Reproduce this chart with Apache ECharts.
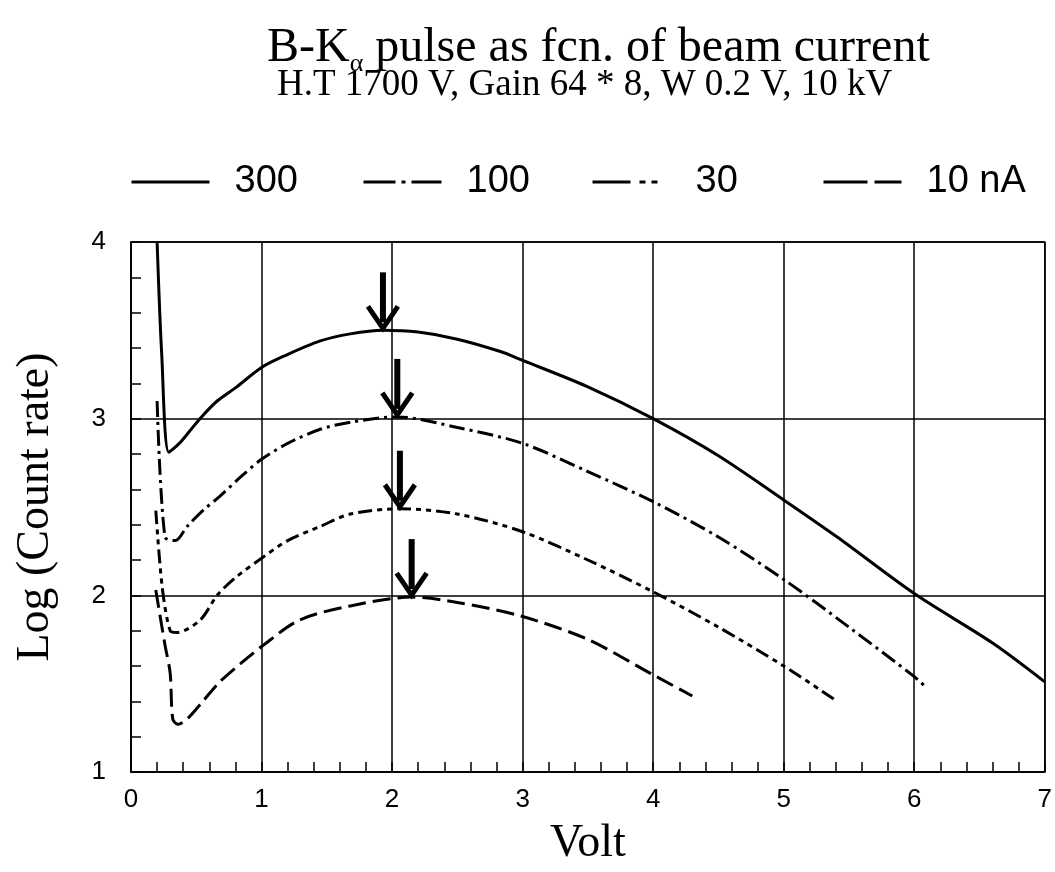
<!DOCTYPE html>
<html>
<head>
<meta charset="utf-8">
<script src="https://cdn.jsdelivr.net/npm/echarts@6/dist/echarts.min.js"></script>
<style>
  html, body { margin: 0; padding: 0; background: #fff; }
  #chart { width: 1055px; height: 872px; }
</style>
</head>
<body>
<div id="chart"></div>
<script>
// Pulse height scans of the B-Kα line, one per beam current
const seriesNames = ['300', '100', '30', '10 nA'];

const volt300 = [0.2, 0.235, 0.29, 0.37, 0.45, 0.54, 0.66, 0.81, 1.0, 1.19, 1.45, 1.68, 1.93, 2.2, 2.5, 2.83, 3.0, 3.5, 4.0, 4.5, 5.0, 5.41, 6.0, 6.6, 7.0];
const log300  = [4.0, 3.37, 2.81, 2.86, 2.93, 3.01, 3.10, 3.18, 3.29, 3.36, 3.44, 3.48, 3.50, 3.49, 3.45, 3.38, 3.33, 3.18, 3.00, 2.79, 2.54, 2.33, 2.01, 1.73, 1.51];

const volt100 = [0.2, 0.26, 0.34, 0.43, 0.55, 0.68, 0.84, 1.0, 1.2, 1.45, 1.68, 2.04, 2.5, 3.0, 3.5, 4.0, 4.5, 5.0, 5.5, 6.0, 6.09];
const log100  = [3.10, 2.33, 2.31, 2.39, 2.48, 2.56, 2.67, 2.77, 2.86, 2.94, 2.98, 3.01, 2.95, 2.86, 2.70, 2.53, 2.33, 2.09, 1.82, 1.54, 1.48];

const volt30 = [0.19, 0.24, 0.30, 0.35, 0.53, 0.66, 0.80, 1.0, 1.2, 1.45, 1.68, 2.06, 2.5, 3.0, 3.5, 4.0, 4.5, 5.0, 5.39];
const log30  = [2.48, 2.04, 1.80, 1.79, 1.86, 2.00, 2.10, 2.21, 2.31, 2.39, 2.46, 2.49, 2.46, 2.36, 2.20, 2.02, 1.82, 1.60, 1.41];

const volt10 = [0.19, 0.26, 0.30, 0.32, 0.36, 0.43, 0.55, 0.68, 0.85, 1.0, 1.29, 1.68, 2.15, 2.5, 3.0, 3.5, 4.0, 4.3];
const log10  = [2.03, 1.72, 1.56, 1.30, 1.27, 1.30, 1.40, 1.51, 1.62, 1.71, 1.86, 1.94, 1.99, 1.96, 1.88, 1.75, 1.55, 1.43];

// Peak markers (arrow tips sit on each curve's maximum)
const peakVolt = [1.93, 2.04, 2.06, 2.15];
const peakLog  = [3.50, 3.01, 2.49, 1.99];

// Axis ticks
const xTicks = [0, 1, 2, 3, 4, 5, 6, 7];
const yTicks = [1, 2, 3, 4];

function pairs(xs, ys) { return xs.map((x, i) => [x, ys[i]]); }

// Dash patterns of the curves and of the (longer) legend samples
const dashStyles = [
  'solid',
  [16, 5, 3, 5],
  [14, 5, 5, 5, 5, 5],
  [18, 7]
];
const legendDash = [
  'solid',
  [32, 6, 4, 6, 40],
  [38, 9, 6, 6, 6, 40],
  [44, 7, 40]
];
const curveData = [pairs(volt300, log300), pairs(volt100, log100), pairs(volt30, log30), pairs(volt10, log10)];

const chart = echarts.init(document.getElementById('chart'), null, { renderer: 'canvas' });

const legendLefts = [130, 362, 591, 822];

const lineSeries = curveData.map((d, i) => ({
  name: seriesNames[i],
  type: 'line',
  data: d,
  symbol: 'none',
  showSymbol: false,
  smooth: 0.3,
  silent: true,
  lineStyle: { color: '#000', width: 3, type: dashStyles[i], cap: 'butt' },
  itemStyle: { color: '#000' },
  z: 3
}));

const arrowSeries = {
  type: 'custom',
  silent: true,
  data: pairs(peakVolt, peakLog),
  renderItem: function (params, api) {
    const tip = api.coord([api.value(0), api.value(1)]);
    const x = tip[0], y = tip[1] - 2;
    return {
      type: 'group',
      children: [
        { type: 'line', shape: { x1: x, y1: y - 56, x2: x, y2: y - 6 }, style: { stroke: '#000', lineWidth: 6 } },
        { type: 'polyline', shape: { points: [[x - 15, y - 22], [x, y], [x + 15, y - 22]] }, style: { stroke: '#000', lineWidth: 5, fill: null, lineJoin: 'miter' } }
      ]
    };
  },
  z: 4
};

chart.setOption({
  backgroundColor: '#fff',
  animation: false,
  title: [
    {
      text: 'B-K{a|α} pulse as fcn. of beam current',
      left: 262,
      top: 14,
      textStyle: {
        fontFamily: 'Liberation Serif', fontSize: 48, fontWeight: 'normal', color: '#000',
        rich: { a: { fontFamily: 'Liberation Serif', fontSize: 26, color: '#000', padding: [32, 0, 0, 0], verticalAlign: 'bottom' } }
      }
    },
    {
      text: 'H.T 1700 V, Gain 64 * 8, W 0.2 V, 10 kV',
      left: 272,
      top: 62,
      textStyle: { fontFamily: 'Liberation Serif', fontSize: 37, fontWeight: 'normal', color: '#000' }
    }
  ],
  legend: seriesNames.map((n, i) => ({
    data: [n],
    left: legendLefts[i],
    top: 163,
    padding: 0,
    itemWidth: 78,
    itemHeight: 20,
    itemGap: 0,
    selectedMode: false,
    itemStyle: { color: 'transparent', borderColor: 'transparent', borderWidth: 0 },
    lineStyle: { width: 3, color: '#000', type: legendDash[i], cap: 'butt' },
    textStyle: { fontFamily: 'Liberation Sans', fontSize: 38, color: '#000', padding: [0, 0, 0, 20] }
  })),
  grid: {
    left: 131, right: 10, top: 242, bottom: 99,
    show: true, borderColor: '#000', borderWidth: 1.5, backgroundColor: 'transparent'
  },
  xAxis: {
    type: 'value',
    min: xTicks[0], max: xTicks[xTicks.length - 1], interval: 1,
    name: 'Volt',
    nameLocation: 'middle',
    nameGap: 49,
    nameTextStyle: { fontFamily: 'Liberation Serif', fontSize: 46, color: '#000' },
    axisLine: { show: true, lineStyle: { color: '#000', width: 1.5 } },
    axisTick: { show: true, inside: true, length: 10, lineStyle: { color: '#000', width: 1.5 } },
    minorTick: { show: true, splitNumber: 5, length: 10, lineStyle: { color: '#000', width: 1.5 } },
    axisLabel: { fontFamily: 'Liberation Sans', fontSize: 26, color: '#000', margin: 15 },
    splitLine: { show: true, lineStyle: { color: '#000', width: 1.5 } }
  },
  yAxis: {
    type: 'value',
    min: yTicks[0], max: yTicks[yTicks.length - 1], interval: 1,
    name: 'Log (Count rate)',
    nameLocation: 'middle',
    nameRotate: 90,
    nameGap: 72,
    nameTextStyle: { fontFamily: 'Liberation Serif', fontSize: 46, color: '#000' },
    axisLine: { show: true, lineStyle: { color: '#000', width: 1.5 } },
    axisTick: { show: true, inside: true, length: 10, lineStyle: { color: '#000', width: 1.5 } },
    minorTick: { show: true, splitNumber: 5, length: 10, lineStyle: { color: '#000', width: 1.5 } },
    axisLabel: { fontFamily: 'Liberation Sans', fontSize: 26, color: '#000', margin: 25 },
    splitLine: { show: true, lineStyle: { color: '#000', width: 1.5 } }
  },
  series: lineSeries.concat([arrowSeries])
});
</script>
</body>
</html>
